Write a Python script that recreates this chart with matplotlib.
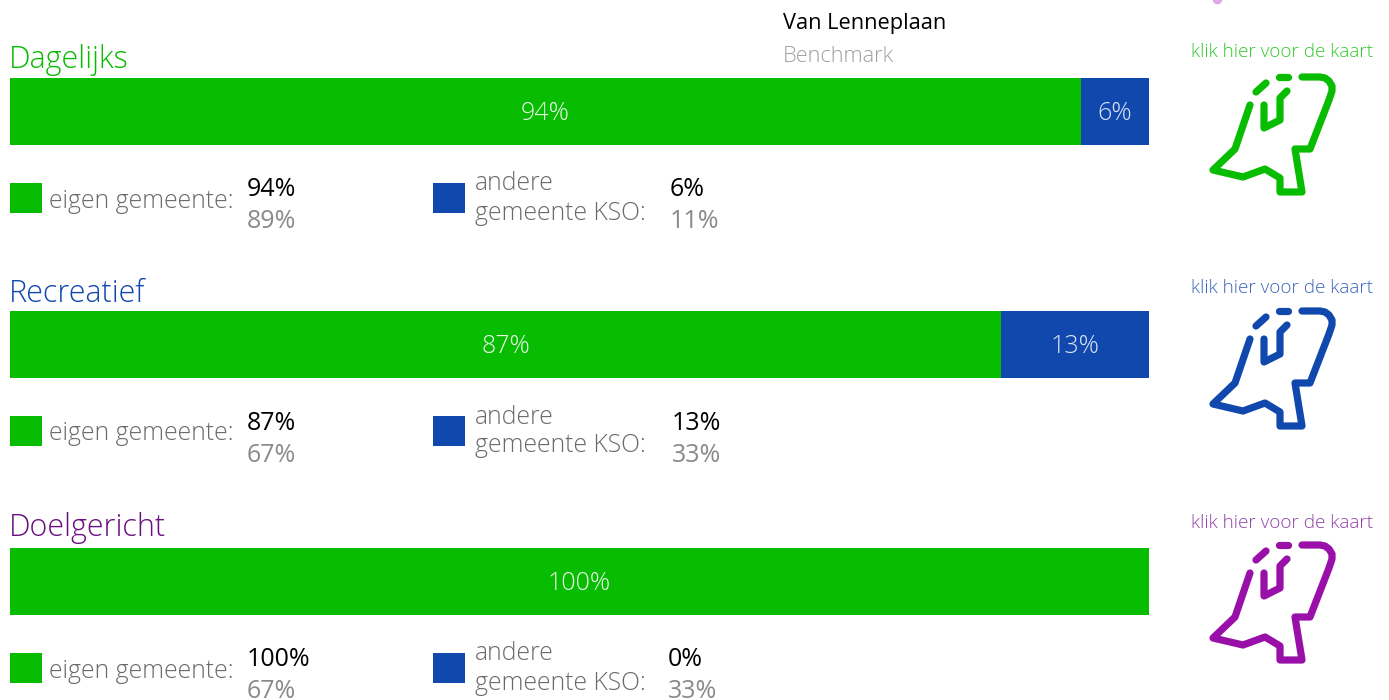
#!/usr/bin/env python

import matplotlib
matplotlib.use("Agg")
import matplotlib.pyplot as plt

W, H = 1389, 700

categories = ["Dagelijks", "Recreatief", "Doelgericht"]
eigen = [94, 87, 100]
andere = [6, 13, 0]
eigen_bench = [89, 67, 67]
andere_bench = [11, 33, 33]

title_colors = ["#08bc02", "#1048ae", "#6a0f80"]
link_colors = ["#30c82a", "#3a64bc", "#9040a8"]
icon_colors = ["#08bc02", "#1048ae", "#9810a8"]
GREEN = "#08bc02"
BLUE = "#1048ae"

plt.rcParams["font.family"] = ["Open Sans", "DejaVu Sans"]
plt.rcParams["font.weight"] = "light"

fig = plt.figure(figsize=(W / 100, H / 100), dpi=100)

# overlay in pixel coords for the text and icons
ov = fig.add_axes([0, 0, 1, 1])
ov.set_xlim(0, W)
ov.set_ylim(H, 0)
ov.axis("off")

# icon outline, pixels relative to the top-left of the icon box
outline = [(132, 77), (150, 77), (155, 78), (159, 81), (162, 86), (162, 91), (159, 100),
           (140, 149), (125, 149), (132, 192), (110, 192), (110, 178),
           (95, 169), (73, 177), (43, 170), (65, 149), (80, 105)]
inner = [(94, 105), (94, 128), (110, 120), (110, 98), (117, 91)]
dash1 = [(86, 92), (96, 83)]
dash2 = [(109, 77), (118, 77)]


def draw_icon(dx, dy, color):
    for part in [outline, inner, dash1, dash2]:
        ov.plot([p[0] + dx for p in part], [p[1] + dy for p in part],
                color=color, lw=5.2, solid_capstyle="round",
                solid_joinstyle="round")


# header
ov.text(783, 24, "Van Lenneplaan", fontsize=15.7, color="black", va="center",
        fontweight="normal")
ov.text(783, 56, "Benchmark", fontsize=15.7, color="#a0a0a0", va="center")
ov.plot([1217], [-1], "o", ms=6, color="#e0a8e8")

bar_top = [78, 311, 548]
title_y = [60, 294, 528]
link_y = [52, 288, 523]
legend_y = [198, 431, 668]
icon_dy = [0, 234, 468]
val_x2 = [670, 672, 668]

for i, cat in enumerate(categories):
    top = bar_top[i]
    ax = fig.add_axes([10 / W, 1 - (top + 67) / H, 1139 / W, 67 / H])
    ax.barh([0], [eigen[i]], height=1, color=GREEN)
    ax.barh([0], [andere[i]], left=[eigen[i]], height=1, color=BLUE)
    ax.set_xlim(0, 100)
    ax.set_ylim(-0.5, 0.5)
    ax.axis("off")
    ax.text(eigen[i] / 2, -0.03, f"{eigen[i]}%", color="#e8f8e8", fontsize=18,
            ha="center", va="center")
    if andere[i] > 0:
        ax.text(eigen[i] + andere[i] / 2, -0.03, f"{andere[i]}%", color="#dde4f4",
                fontsize=18, ha="center", va="center")

    ov.text(9, title_y[i], cat, color=title_colors[i], fontsize=22, va="center")
    ov.text(1282, link_y[i], "klik hier voor de kaart", color=link_colors[i],
            fontsize=13.6, ha="center", va="center")
    draw_icon(1170, icon_dy[i], icon_colors[i])

    ly = legend_y[i]
    ov.add_patch(plt.Rectangle((10, ly - 15), 32, 30, color=GREEN, lw=0))
    ov.add_patch(plt.Rectangle((433, ly - 15), 32, 30, color=BLUE, lw=0))
    ov.text(49, ly + 3, "eigen gemeente:", color="#6a6a6a", fontsize=17.8, va="center")
    ov.text(475, ly - 14, "andere", color="#6a6a6a", fontsize=17.8, va="center")
    ov.text(475, ly + 15, "gemeente KSO:", color="#6a6a6a", fontsize=17.8, va="center")
    ov.text(247, ly - 8, f"{eigen[i]}%", color="black", fontsize=18, va="center",
            fontweight="normal")
    ov.text(247, ly + 24, f"{eigen_bench[i]}%", color="#8a8a8a", fontsize=18,
            va="center", fontweight="normal")
    ov.text(val_x2[i], ly - 8, f"{andere[i]}%", color="black", fontsize=18,
            va="center", fontweight="normal")
    ov.text(val_x2[i], ly + 24, f"{andere_bench[i]}%", color="#8a8a8a", fontsize=18,
            va="center", fontweight="normal")

fig.savefig("out.png", dpi=100, facecolor="white")
